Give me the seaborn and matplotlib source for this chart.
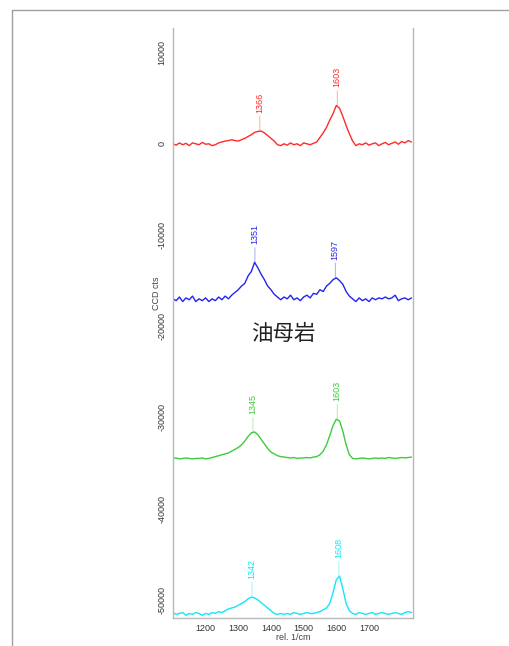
import numpy as np
import pandas as pd
import seaborn as sns
import matplotlib.pyplot as plt
from matplotlib.lines import Line2D

# wavenumber grid, rel. 1/cm
wavenumber = list(range(1100, 1840, 10))

red_counts = [0, -150, 100, -100, 50, -200, 100, 0, -100, 150,
              -50, 0, -200, -100, 100, 200, 300, 350, 450, 350,
              300, 450, 600, 800, 1000, 1250, 1350, 1400, 1200, 900,
              600, 300, -100, -200, 0, -150, 100, -100, 0, -200,
              100, 0, -100, 50, 200, 700, 1200, 1800, 2600, 3300,
              4200, 3900, 3000, 2000, 1100, 300, -200, 0, -100, 100,
              -150, 0, 100, -200, 0, 150, -100, 50, 200, -50,
              250, 100, 350, 200]

blue_counts = [-17000, -17200, -16800, -17300, -16900, -17100, -16700, -17300, -17000, -17200,
               -16900, -17300, -17000, -17200, -16800, -17100, -16700, -17000, -16600, -16300,
               -16000, -15600, -15300, -14500, -14000, -13000, -13600, -14300, -14900, -15600,
               -16000, -16500, -16800, -17100, -16800, -17000, -16600, -17100, -16900, -17200,
               -16800, -16600, -16900, -16400, -16500, -16000, -16200, -15600, -15300, -14900,
               -14700, -15000, -15400, -16200, -16700, -17000, -17300, -16900, -17200, -17000,
               -17300, -16900, -17100, -16900, -17000, -16800, -17000, -16900, -16600, -17200,
               -17000, -16900, -17100, -16900]

green_counts = [-34500, -34450, -34550, -34500, -34450, -34500, -34550, -34500, -34500, -34450,
                -34550, -34500, -34400, -34300, -34200, -34100, -34000, -33900, -33700, -33500,
                -33300, -33000, -32600, -32100, -31700, -31600, -31900, -32400, -32900, -33400,
                -33800, -34000, -34200, -34300, -34350, -34400, -34450, -34400, -34500, -34450,
                -34450, -34400, -34450, -34350, -34300, -34100, -33700, -33000, -32000, -30900,
                -30200, -30400, -31500, -33000, -34100, -34500, -34550, -34500, -34450, -34500,
                -34550, -34500, -34450, -34500, -34450, -34500, -34400, -34450, -34500, -34450,
                -34400, -34450, -34400, -34350]

cyan_counts = [-51400, -51600, -51500, -51400, -51700, -51500, -51600, -51400, -51500, -51700,
               -51500, -51600, -51400, -51500, -51300, -51400, -51200, -51000, -50900, -50800,
               -50600, -50400, -50200, -49900, -49700, -49800, -50000, -50300, -50600, -50900,
               -51200, -51500, -51600, -51500, -51600, -51500, -51600, -51400, -51500, -51600,
               -51500, -51400, -51500, -51500, -51400, -51300, -51100, -50900, -50400, -49200,
               -47800, -47400, -48800, -50400, -51200, -51500, -51600, -51400, -51500, -51600,
               -51500, -51400, -51600, -51500, -51400, -51500, -51600, -51500, -51400, -51500,
               -51600, -51400, -51300, -51400]

# peak positions and heights (labels)
red_peaks = [1366, 1603]
red_heights = [1400, 4200]
blue_peaks = [1351, 1597]
blue_heights = [-13000, -14700]
green_peaks = [1345, 1603]
green_heights = [-31600, -30200]
cyan_peaks = [1342, 1608]
cyan_heights = [-49700, -47400]

y_ticks = [10000, 0, -10000, -20000, -30000, -40000, -50000]
x_ticks = [1200, 1300, 1400, 1500, 1600, 1700]

sns.set_style("white")
plt.rcParams['font.family'] = ['Liberation Sans', 'Noto Sans CJK SC', 'DejaVu Sans']
plt.rcParams['axes.unicode_minus'] = False

fig = plt.figure(figsize=(5.1, 6.46), dpi=100)
ax = fig.add_axes([0.339, 0.0433, 0.471, 0.9134])

traces = [
    (red_counts, red_peaks, red_heights, "#ff2a2a"),
    (blue_counts, blue_peaks, blue_heights, "#2424ee"),
    (green_counts, green_peaks, green_heights, "#3ccc3c"),
    (cyan_counts, cyan_peaks, cyan_heights, "#10e8f8"),
]
for counts, peaks, heights, c in traces:
    sns.lineplot(x=wavenumber, y=counts, color=c, linewidth=1.0, ax=ax)
    for pk, h in zip(peaks, heights):
        ax.annotate(str(pk), xy=(pk, h), xytext=(0, 13), textcoords='offset points',
                    rotation=90, ha='center', va='bottom', fontsize=6.5, color=c,
                    arrowprops=dict(arrowstyle='-', color=c, lw=0.6, alpha=0.45,
                                    shrinkA=0, shrinkB=0))

ax.set_xlim(1100, 1835)
ax.set_ylim(-52000, 12700)
ax.set_xticks(x_ticks)
ax.set_yticks(y_ticks)
ax.set_yticklabels([str(v) for v in y_ticks], rotation=90, va='center')
ax.tick_params(axis='both', labelsize=6.5, colors='#555555', length=3, width=0.6,
               labelcolor='#333333', pad=1.5)
for s in ['left', 'right', 'bottom']:
    ax.spines[s].set_color('#b8b8b8')
    ax.spines[s].set_linewidth(1.0)
ax.spines['top'].set_visible(False)

ax.set_xlabel("rel. 1/cm", fontsize=6.5, color='#444444', labelpad=0)
ax.set_ylabel("CCD cts", fontsize=6.5, color='#444444')
ax.yaxis.set_label_coords(-0.05, 0.55)

ax.text(0.46, 0.481, "油母岩", transform=ax.transAxes, fontsize=15.5,
        color='#222222', ha='center', va='center')

# outer frame
fig.add_artist(Line2D([0.0235, 1.0], [0.9845, 0.9845], color='#a0a0a0', lw=1.0))
fig.add_artist(Line2D([0.0235, 0.0235], [0.0, 0.9845], color='#a0a0a0', lw=1.0))

fig.savefig("out.png", dpi=100)
